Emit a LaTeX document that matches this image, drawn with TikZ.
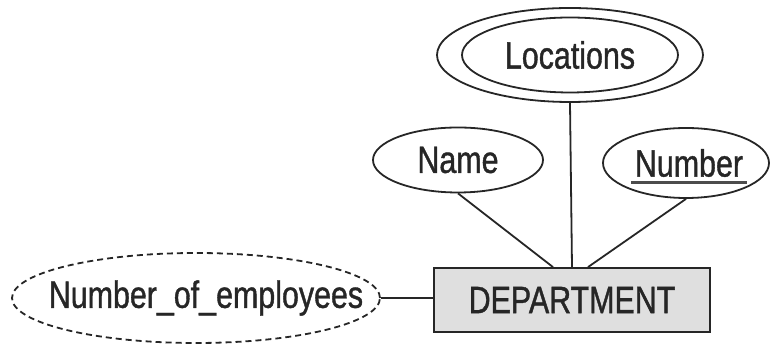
\documentclass[tikz,border=0pt]{standalone}
\usepackage{fontspec}
\setmainfont{Liberation Sans}[FakeStretch=0.8, FakeBold=1]
\usetikzlibrary{shapes.geometric}
\tikzset{
  atributo/.style={ellipse, draw=black!85, line width=1.8pt, inner sep=0pt},
  entidad/.style={rectangle, draw=black!85, line width=1.8pt, fill=gray!25,
                  minimum width=276pt, minimum height=64pt},
  enlace/.style={draw=black!85, line width=1.8pt}
}
\begin{document}
\begin{tikzpicture}[x=1pt, y=1pt, font=\fontsize{38}{44}\selectfont, text=black!85]
    \useasboundingbox (0,0) rectangle (771,347);

    % Entidad
    \node[entidad] (dept) at (572, 47) {DEPARTMENT};

    % Atributo multivaluado (doble elipse)
    \node[atributo, minimum width=266pt, minimum height=94pt,
          label={center:Locations}] (loc) at (570, 292) {};
    \draw[black!85, line width=1.8pt] (loc.center)
          ellipse [x radius=108, y radius=37.5];

    % Atributos simples
    \node[atributo, minimum width=170pt, minimum height=65pt,
          label={center:Name}] (name) at (458, 187) {};
    \node[atributo, minimum width=166pt, minimum height=70pt,
          label={[name=numtxt, xshift=3pt]center:Number}] (num) at (686, 184) {};
    \draw[black!70, line width=2.2pt] ([yshift=-6pt]numtxt.base west)
          -- ([yshift=-6pt]numtxt.base east);

    % Atributo derivado (elipse discontinua)
    \node[atributo, dash pattern=on 6pt off 4pt, minimum width=368pt,
          minimum height=90pt,
          label={[xshift=10pt]center:Number\_of\_employees}]
          (noe) at (196, 49) {};

    % Enlaces
    \draw[enlace] (loc.south) -- (dept.north);
    \draw[enlace] (name.south) -- ([xshift=-19pt]dept.north);
    \draw[enlace] (num.south) -- ([xshift=16pt]dept.north);
    \draw[enlace] (noe.east) -- (noe.east -| dept.west);
\end{tikzpicture}
\end{document}
